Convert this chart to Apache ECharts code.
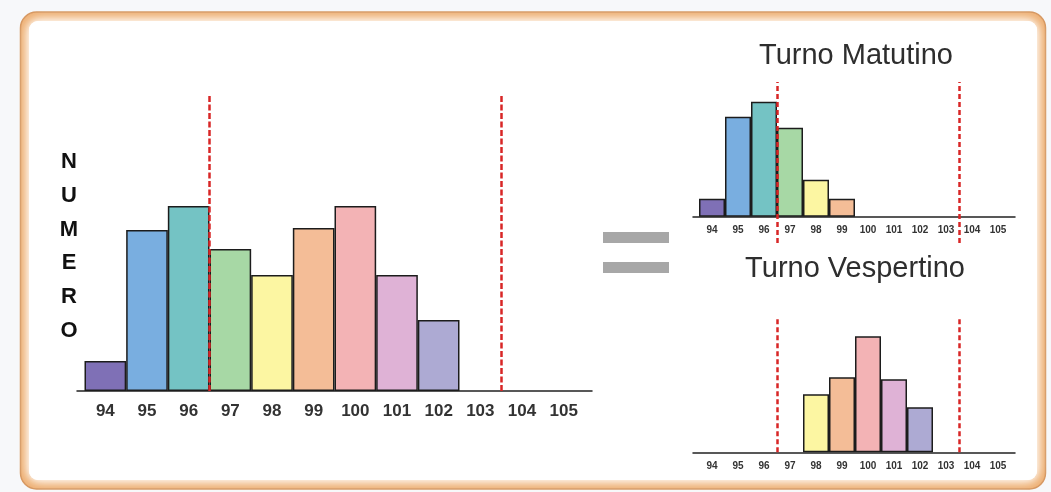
<!DOCTYPE html>
<html><head><meta charset="utf-8">
<script src="https://cdn.jsdelivr.net/npm/echarts@6.0.0/dist/echarts.min.js"></script>
<style>html,body{margin:0;padding:0;background:#f7f8fa;}#c{width:1051px;height:492px;}</style>
</head><body><div id="c"></div>
<script>
// ---- data ----
const categories = ['94','95','96','97','98','99','100','101','102','103','104','105'];
const totalValues   = [3.0, 16.1, 18.5, 14.2, 11.6, 16.3, 18.5, 11.6, 7.1, null, null, null];
const morningValues = [1.8, 10.0, 11.5, 8.9, 3.7, 1.8, null, null, null, null, null, null];
const eveningValues = [null, null, null, null, 5.8, 7.5, 11.6, 7.3, 4.5, null, null, null];
const specLimits = [96.5, 103.5];
const panelTitles = ['Turno Matutino', 'Turno Vespertino'];
const yAxisName = 'NUMERO';

// ---- styles ----
const barColors = ['#7f70b6','#79aee0','#74c3c4','#a7d8a5','#fcf6a2','#f4bd97','#f3b3b5','#dfb2d6','#adaad3','#cccccc','#cccccc','#cccccc'];
const narrow = "'Liberation Sans Narrow','Arial Narrow','Liberation Sans',Arial,sans-serif";
const sans = "'Liberation Sans',Arial,sans-serif";

const grid = [], xAxis = [], yAxis = [], series = [];

function addPanel(cfg) {
  const bw = cfg.width / categories.length;
  // bar grid
  const gBar = grid.length;
  grid.push({left: cfg.left, top: cfg.top, width: cfg.width, height: cfg.height});
  xAxis.push({type: 'category', gridIndex: gBar, data: categories,
    axisLine: {show: false}, axisTick: {show: false},
    axisLabel: {interval: 0, margin: cfg.labelMargin, color: '#333', fontSize: cfg.fontSize,
      fontWeight: 'bold', fontFamily: narrow}});
  yAxis.push({type: 'value', gridIndex: gBar, min: 0, max: cfg.yMax, show: false});
  series.push({type: 'bar', xAxisIndex: xAxis.length - 1, yAxisIndex: yAxis.length - 1,
    barCategoryGap: '0%', silent: true,
    itemStyle: {borderColor: '#1c1c1c', borderWidth: 1.5},
    data: cfg.values.map((v, i) => v == null ? null : {value: v, itemStyle: {color: barColors[i]}})});
  // line grid (axis line + spec limit lines)
  const gLine = grid.length;
  grid.push({left: cfg.lineLeft, top: cfg.lineTop, width: cfg.lineWidth, height: cfg.lineHeight});
  const xmin = 93.5 - (cfg.left - cfg.lineLeft) / bw;
  const xmax = 105.5 + ((cfg.lineLeft + cfg.lineWidth) - (cfg.left + cfg.width)) / bw;
  xAxis.push({type: 'value', gridIndex: gLine, min: xmin, max: xmax,
    axisLine: {show: true, onZero: true, lineStyle: {color: '#222', width: 1.5}},
    axisTick: {show: false}, axisLabel: {show: false}, splitLine: {show: false}});
  yAxis.push({type: 'value', gridIndex: gLine, min: cfg.lineYMin, max: cfg.lineYMax, show: false});
  series.push({type: 'scatter', xAxisIndex: xAxis.length - 1, yAxisIndex: yAxis.length - 1,
    symbolSize: 0, silent: true, data: [[specLimits[0], 0]],
    markLine: {symbol: 'none', silent: true, animation: false, label: {show: false},
      lineStyle: {color: '#d82626', width: cfg.dashWidth, type: cfg.dash},
      data: specLimits.map(v => ({xAxis: v}))}});
}

// main histogram
addPanel({left: 84.5, top: 93, width: 500, height: 298, yMax: 29.8,
  lineLeft: 77, lineWidth: 515, lineTop: 95, lineHeight: 296, lineYMin: 0, lineYMax: 10,
  values: totalValues, fontSize: 17, labelMargin: 12, dash: [6, 2.5], dashWidth: 2.5});
// morning shift
addPanel({left: 699, top: 82, width: 312, height: 134.7, yMax: 13.47,
  lineLeft: 693, lineWidth: 322, lineTop: 82, lineHeight: 161, lineYMin: -2.63, lineYMax: 13.47,
  values: morningValues, fontSize: 10, labelMargin: 9, dash: [5, 3], dashWidth: 2.5});
// evening shift
addPanel({left: 699, top: 318, width: 312, height: 134.3, yMax: 13.43,
  lineLeft: 693, lineWidth: 322, lineTop: 318, lineHeight: 134.3, lineYMin: 0, lineYMax: 10,
  values: eveningValues, fontSize: 10, labelMargin: 9, dash: [5, 3], dashWidth: 2.5});

const graphic = [
  {type: 'rect', z: -20, silent: true, shape: {x: 20.5, y: 12, width: 1025, height: 477, r: 16},
    style: {fill: '#eeae70', stroke: '#d4935a', lineWidth: 1.5}},
  {type: 'rect', z: -19, silent: true, shape: {x: 29, y: 21, width: 1008, height: 459, r: 9},
    style: {fill: '#ffffff', shadowBlur: 14, shadowColor: 'rgba(255,255,255,1)'}},
  {type: 'rect', z: -18, silent: true, shape: {x: 29, y: 21, width: 1008, height: 459, r: 9},
    style: {fill: '#ffffff', shadowBlur: 8, shadowColor: 'rgba(255,250,245,1)'}},
  {type: 'text', silent: true, style: {text: yAxisName.split('').join('\n'), x: 69, y: 145,
    align: 'center', verticalAlign: 'top', fontSize: 22, fontWeight: 'bold', fontFamily: sans,
    lineHeight: 33.8, fill: '#111'}},
  {type: 'rect', silent: true, shape: {x: 603, y: 232, width: 66, height: 11}, style: {fill: '#a7a7a7'}},
  {type: 'rect', silent: true, shape: {x: 603, y: 262, width: 66, height: 11}, style: {fill: '#a7a7a7'}},
  {type: 'text', silent: true, style: {text: panelTitles[0], x: 856, y: 56, align: 'center',
    verticalAlign: 'middle', fontSize: 29, fontFamily: sans, fill: '#2e2e2e'}},
  {type: 'text', silent: true, style: {text: panelTitles[1], x: 855, y: 268.5, align: 'center',
    verticalAlign: 'middle', fontSize: 29, fontFamily: sans, fill: '#2e2e2e'}}
];

const chart = echarts.init(document.getElementById('c'), null, {renderer: 'canvas'});
chart.setOption({animation: false, backgroundColor: 'transparent', grid, xAxis, yAxis, series, graphic});
</script>
</body></html>
